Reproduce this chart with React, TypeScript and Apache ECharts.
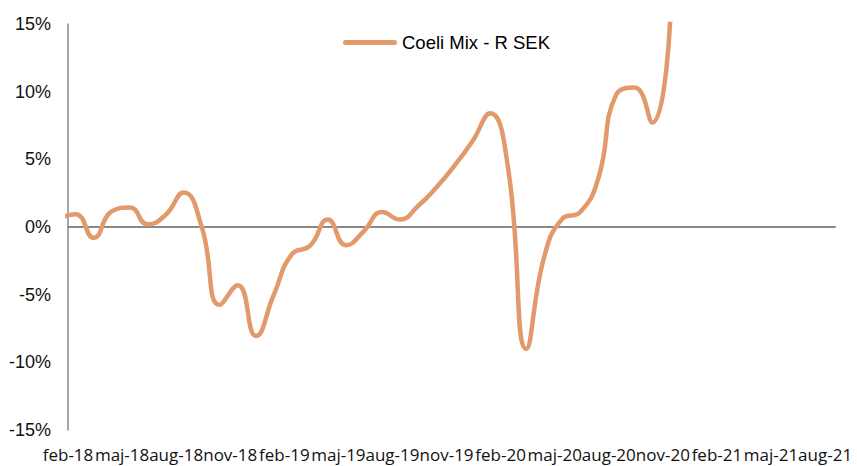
import React, { useEffect, useRef } from "react";
import * as echarts from "echarts";

// x-axis tick labels (every third month, feb-18 .. aug-21)
const tickLabels = [
  "feb-18", "maj-18", "aug-18", "nov-18",
  "feb-19", "maj-19", "aug-19", "nov-19",
  "feb-20", "maj-20", "aug-20", "nov-20",
  "feb-21", "maj-21", "aug-21",
];

// monthly observations (values in %), first one in jan-18 (one month before the first tick)
const seriesName = "Coeli Mix - R SEK";
const values = [
  0.6,
  0.95, -0.8, 1.15, 1.45, 0.2, 0.9, 2.55, 0.0, -5.75, -4.3, -8.05, -5.0,
  -2.0, -1.4, 0.55, -1.35, -0.3, 1.1, 0.55, 1.55, 2.9, 4.5, 6.3, 8.4,
  4.3, -9.0, -2.2, 0.6, 1.1, 3.6, 9.8, 10.3, 7.7, 15.6,
];
const firstObsMonth = -1; // months relative to the first tick (feb-18)
const obsMonthFraction = 0.42; // observation date within each month
const axisEndMonths = 42.55; // axis runs a little past the last tick (aug-21)

const yTicks = { min: -15, max: 15, step: 5 };

export default function App() {
  const ref = useRef<HTMLDivElement>(null);

  useEffect(() => {
    if (!ref.current) return;
    const chart = echarts.init(ref.current, null, { renderer: "svg" });
    const lineColor = "#E2996B";
    const axisGrey = "#898989";
    const tickPositions = tickLabels.map((_, i) => i * 3);
    chart.setOption({
      animation: false,
      backgroundColor: "#ffffff",
      grid: { left: 68, right: 22, top: 24, bottom: 36 },
      legend: {
        data: [seriesName],
        left: 338,
        top: 28,
        itemWidth: 54,
        itemHeight: 5,
        icon: "path://M2.5,0L51.5,0A2.5,2.5,0,0,1,51.5,5L2.5,5A2.5,2.5,0,0,1,2.5,0Z",
        itemStyle: { borderWidth: 0 },
        textStyle: {
          fontFamily: "Liberation Sans, Arial, sans-serif",
          fontSize: 18.5,
          color: "#000",
        },
      },
      xAxis: [
        {
          type: "value",
          position: "bottom",
          min: 0,
          max: axisEndMonths,
          axisLine: { show: false, onZero: false },
          axisTick: { show: false },
          splitLine: { show: false },
          axisLabel: {
            customValues: tickPositions,
            showMinLabel: true,
            showMaxLabel: true,
            hideOverlap: false,
            margin: 16,
            fontFamily: "Open Sans, sans-serif",
            fontSize: 17,
            color: "#111",
            formatter: (v: number) => tickLabels[Math.round(v / 3)] ?? "",
          },
        },
        {
          type: "value",
          position: "bottom",
          min: 0,
          max: axisEndMonths,
          axisLine: { show: true, onZero: true, lineStyle: { color: axisGrey, width: 2 } },
          axisTick: { show: false },
          axisLabel: { show: false },
          splitLine: { show: false },
        },
      ],
      yAxis: {
        type: "value",
        min: yTicks.min,
        max: yTicks.max,
        interval: yTicks.step,
        axisLine: { show: true, lineStyle: { color: axisGrey, width: 1.5 } },
        axisTick: { show: false },
        splitLine: { show: false },
        axisLabel: {
          margin: 17,
          fontFamily: "Liberation Sans, Arial, sans-serif",
          fontSize: 18,
          color: "#111",
          formatter: (v: number) => `${v}%`,
        },
      },
      series: [
        {
          name: seriesName,
          type: "line",
          xAxisIndex: 0,
          data: values.map((v, k) => [firstObsMonth + k + obsMonthFraction, v]),
          smooth: 0.5,
          symbol: "none",
          color: lineColor,
          lineStyle: { color: lineColor, width: 4.5, cap: "round", join: "round" },
          clip: true,
          z: 3,
        },
      ],
    });
    return () => chart.dispose();
  }, []);

  return (
    <div
      ref={ref}
      style={{ position: "fixed", left: 0, top: 0, width: 857, height: 466, background: "#fff" }}
    />
  );
}
